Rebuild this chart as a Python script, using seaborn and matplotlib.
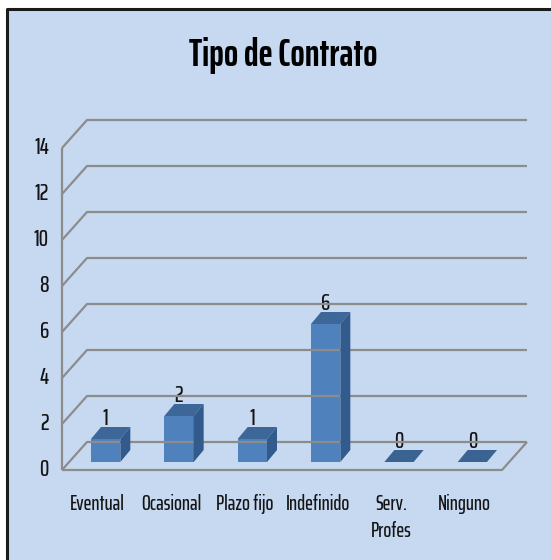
import matplotlib
matplotlib.use("Agg")
import matplotlib.pyplot as plt
import seaborn as sns
import pandas as pd
from matplotlib.lines import Line2D
from matplotlib.patches import Polygon, Rectangle
from matplotlib.transforms import IdentityTransform, offset_copy

categories = ["Eventual", "Ocasional", "Plazo fijo", "Indefinido", "Serv.\nProfes", "Ninguno"]
values = [1, 2, 1, 6, 0, 0]
yticks = [0, 2, 4, 6, 8, 10, 12, 14]
title = "Tipo de Contrato"

BG = "#C6D9F1"
FRONT = "#4F81BD"
SIDE = "#335A8C"
TOP = "#3D6799"
GRID = "#8C8C8C"
TXT = "#141414"
FONT = ["Saira ExtraCondensed", "PT Sans Narrow", "DejaVu Sans"]

sns.set_theme(style="white")
plt.rcParams["font.family"] = FONT

W, H = 551, 560
fig = plt.figure(figsize=(W / 100, H / 100), dpi=100)
fig.patch.set_facecolor("white")

# chart area background + border (left and top)
fig.add_artist(Rectangle((6 / W, 0), 1, (H - 9) / H, transform=fig.transFigure,
                         facecolor=BG, edgecolor="none", zorder=0))
fig.add_artist(Line2D([7 / W, 7 / W, 1], [0, (H - 9) / H, (H - 9) / H],
                      transform=fig.transFigure, color="#1A1A1A", lw=2.2, zorder=1))

ax = fig.add_axes([69 / W, (H - 462) / H, 440 / W, 322 / H])
df = pd.DataFrame({"cat": categories, "val": values})
sns.barplot(data=df, x="cat", y="val", ax=ax, color=FRONT, width=0.4,
            saturation=1, edgecolor="none", zorder=3)
ax.set_xlim(-0.5, len(categories) - 0.5)
ax.set_ylim(0, 14)
ax.patch.set_visible(False)
for s in ax.spines.values():
    s.set_visible(False)
ax.set_xticks([])
ax.set_yticks([])
ax.set_xlabel("")
ax.set_ylabel("")

FRONT_OFF = (-7, -8)
BACK_OFF = (18, 20)
BAR_DEPTH = (10, 12)

def px(x, y, off=(0, 0)):
    X, Y = ax.transData.transform((x, y))
    return X + off[0], Y + off[1]

def pline(pts, **kw):
    xs = [p[0] for p in pts]
    ys = [p[1] for p in pts]
    ln = Line2D(xs, ys, transform=IdentityTransform(), clip_on=False, **kw)
    fig.add_artist(ln)

x0, x1 = ax.get_xlim()
gkw = dict(color=GRID, lw=1.6, zorder=2, solid_capstyle="butt")
for v in yticks:
    # back wall gridline and left side wall diagonal
    pline([px(x0, v, FRONT_OFF), px(x0, v, BACK_OFF), px(x1, v, BACK_OFF)], **gkw)
# front vertical axis
pline([px(x0, 0, FRONT_OFF), px(x0, yticks[-1], FRONT_OFF)], **gkw)
# floor front edge and right diagonal
pline([px(x0, 0, FRONT_OFF), px(x1, 0, FRONT_OFF), px(x1, 0, BACK_OFF)], **gkw)

# 3D sides/tops for bars
for p in ax.patches:
    bx, bw, bh = p.get_x(), p.get_width(), p.get_height()
    dx, dy = BAR_DEPTH
    tl = px(bx, bh); tr = px(bx + bw, bh); br = px(bx + bw, 0)
    top = [tl, tr, (tr[0] + dx, tr[1] + dy), (tl[0] + dx, tl[1] + dy)]
    col_top = TOP if bh > 0 else "#3A6392"
    fig.add_artist(Polygon(top, closed=True, transform=IdentityTransform(),
                           facecolor=col_top, edgecolor="none", zorder=4))
    if bh > 0:
        side = [br, tr, (tr[0] + dx, tr[1] + dy), (br[0] + dx, br[1] + dy)]
        fig.add_artist(Polygon(side, closed=True, transform=IdentityTransform(),
                               facecolor=SIDE, edgecolor="none", zorder=4))

# data labels
ax.bar_label(ax.containers[0], fmt="%d", padding=7, fontsize=17, fontweight=500, color=TXT)

# y tick labels on the front axis
ytr = offset_copy(ax.transData, fig, x=FRONT_OFF[0] - 13, y=FRONT_OFF[1], units="dots")
for v in yticks:
    ax.text(x0, v, str(v), transform=ytr, ha="right", va="center",
            fontsize=17, fontweight=500, color=TXT, clip_on=False)

# category labels
xtr = offset_copy(ax.transData, fig, x=-8, y=-32, units="dots")
for i, c in enumerate(categories):
    ax.text(i, 0, c, transform=xtr, ha="center", va="top", fontsize=15, fontweight=500,
            color=TXT, linespacing=1.45, clip_on=False)

fig.text(283 / W, 1 - 56 / H, title, ha="center", va="center",
         fontsize=27, fontweight="bold", color="black")

fig.savefig("out.png", dpi=100)
